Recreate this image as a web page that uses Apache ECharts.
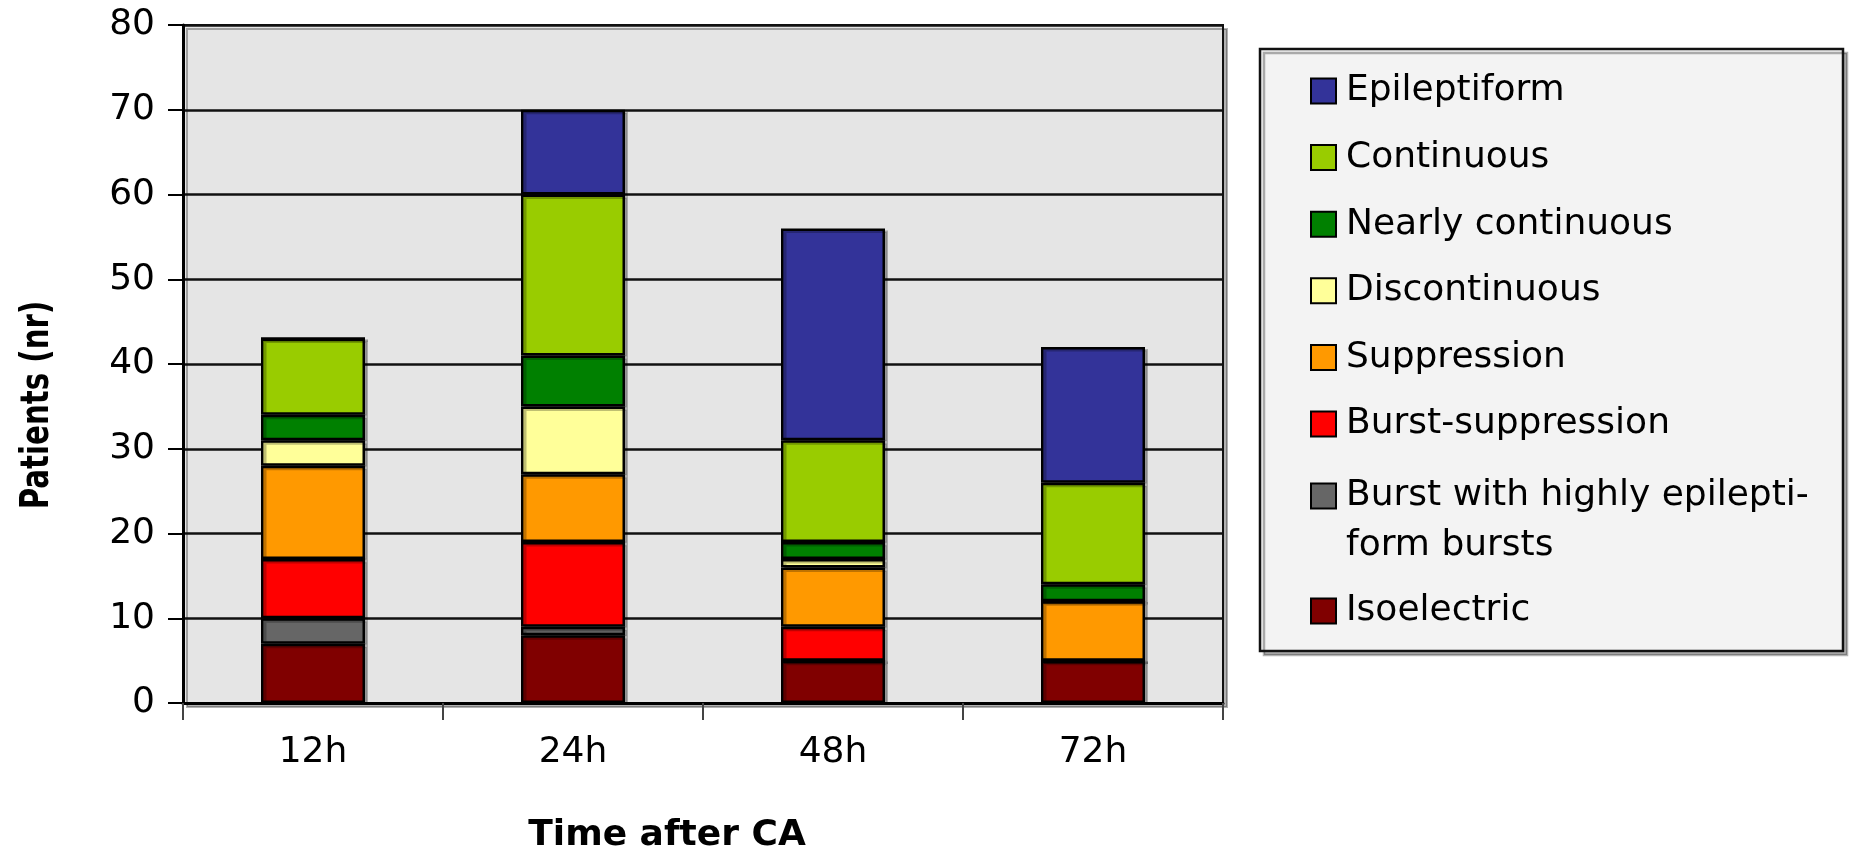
<!DOCTYPE html>
<html>
<head>
<meta charset="utf-8">
<script src="https://cdn.jsdelivr.net/npm/echarts@6/dist/echarts.min.js"></script>
<style>
html,body{margin:0;padding:0;background:#fff;}
#chart{width:1856px;height:855px;}
</style>
</head>
<body>
<div id="chart"></div>
<script>
// ---- data ----
const categories = ['12h', '24h', '48h', '72h'];
const isoelectric      = [7, 8, 5, 5];
const burstHighly      = [3, 1, 0, 0];
const burstSuppression = [7, 10, 4, 0];
const suppression      = [11, 8, 7, 7];
const discontinuous    = [3, 8, 1, 0];
const nearlyContinuous = [3, 6, 2, 2];
const continuous       = [9, 19, 12, 12];
const epileptiform     = [0, 10, 25, 16];
const yMin = 0, yMax = 80, yStep = 10;

const NAME_GRAY = 'Burst with highly epileptiform bursts';
const FONT = 'DejaVu Sans';

const seriesDefs = [
  {name: 'Isoelectric', data: isoelectric, color: '#800000'},
  {name: NAME_GRAY, data: burstHighly, color: '#666666'},
  {name: 'Burst-suppression', data: burstSuppression, color: '#ff0000'},
  {name: 'Suppression', data: suppression, color: '#ff9900'},
  {name: 'Discontinuous', data: discontinuous, color: '#ffff99'},
  {name: 'Nearly continuous', data: nearlyContinuous, color: '#008000'},
  {name: 'Continuous', data: continuous, color: '#99cc00'},
  {name: 'Epileptiform', data: epileptiform, color: '#333399'}
];

const chart = echarts.init(document.getElementById('chart'), null, {renderer: 'canvas'});

const legendText = {fontFamily: FONT, fontSize: 36, color: '#000', padding: [0, 0, 0, 5]};
const legendCommon = {
  orient: 'vertical', left: 1310, padding: 0,
  itemWidth: 25, itemHeight: 25, icon: 'rect',
  selectedMode: false, textStyle: legendText,
  itemStyle: {borderColor: '#000', borderWidth: 2}
};

const option = {
  animation: false,
  textStyle: {fontFamily: FONT},
  grid: {
    left: 183, right: 633, top: 25, bottom: 152,
    show: true, backgroundColor: '#e5e5e5',
    borderColor: '#111', borderWidth: 2,
    shadowColor: 'rgba(0,0,0,0.3)', shadowOffsetX: 4, shadowOffsetY: 4, shadowBlur: 0
  },
  graphic: [
    {
      type: 'rect', z: 0,
      shape: {x: 1260, y: 49, width: 583, height: 602},
      style: {fill: '#f3f3f3', stroke: '#111', lineWidth: 2.5,
              shadowColor: 'rgba(0,0,0,0.3)', shadowOffsetX: 4, shadowOffsetY: 4, shadowBlur: 0}
    },
    {
      type: 'text', x: 667, y: 836,
      style: {text: 'Time after CA', font: 'bold 36px "DejaVu Sans"', fill: '#000',
              textAlign: 'center', textVerticalAlign: 'middle'}
    },
    {
      type: 'text', x: 38, y: 405, rotation: Math.PI / 2, scaleX: 0.75,
      style: {text: 'Patients (nr)', font: 'bold 39px "DejaVu Sans"', fill: '#000',
              textAlign: 'center', textVerticalAlign: 'middle'}
    }
  ],
  legend: [
    Object.assign({}, legendCommon, {
      top: 73, itemGap: 30.6,
      data: ['Epileptiform', 'Continuous', 'Nearly continuous', 'Discontinuous', 'Suppression', 'Burst-suppression']
    }),
    Object.assign({}, legendCommon, {
      top: 478, itemGap: 0,
      data: [NAME_GRAY],
      formatter: function () { return '{l|Burst with highly epilepti-}\n{l|form bursts}'; },
      textStyle: Object.assign({}, legendText, {
        padding: [50, 0, 0, 5],
        rich: {l: {fontFamily: FONT, fontSize: 36, color: '#000', lineHeight: 50}}
      })
    }),
    Object.assign({}, legendCommon, {
      top: 593, itemGap: 0,
      data: ['Isoelectric']
    })
  ],
  xAxis: {
    type: 'category', data: categories,
    axisLine: {lineStyle: {color: '#000', width: 3}},
    axisTick: {show: true, length: 17, lineStyle: {color: '#444', width: 2}},
    axisLabel: {color: '#000', fontSize: 36, fontFamily: FONT, margin: 32},
    splitLine: {show: false}
  },
  yAxis: {
    type: 'value', min: yMin, max: yMax, interval: yStep,
    axisLine: {show: true, lineStyle: {color: '#000', width: 3}},
    axisTick: {show: true, length: 15, lineStyle: {color: '#000', width: 2}},
    axisLabel: {color: '#000', fontSize: 36, fontFamily: FONT, margin: 28},
    splitLine: {show: true, lineStyle: {color: '#111', width: 2.5}}
  },
  series: seriesDefs.map(function (s) {
    return {
      name: s.name, type: 'bar', stack: 'total', barWidth: '40%',
      data: s.data,
      itemStyle: {color: s.color, borderColor: '#000', borderWidth: 2.5,
                  shadowColor: 'rgba(0,0,0,0.25)', shadowOffsetX: 3, shadowOffsetY: 2, shadowBlur: 0},
      emphasis: {disabled: true}
    };
  })
};
chart.setOption(option);
</script>
</body>
</html>
